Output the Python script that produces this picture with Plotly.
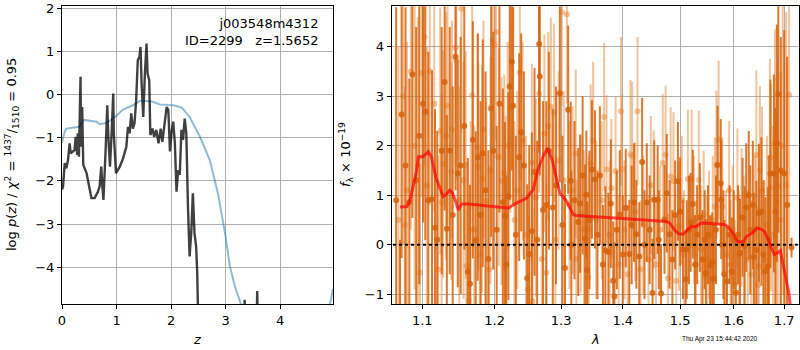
import numpy as np
import plotly.graph_objects as go

# ---------------- left panel: p(z) and chi2 curves ----------------
z_pz = [0.0, 0.019, 0.05, 0.08, 0.11, 0.14, 0.16, 0.20, 0.23, 0.25, 0.28, 0.29, 0.31, 0.34, 0.35,
        0.37, 0.39, 0.45, 0.51, 0.54, 0.60, 0.66, 0.69, 0.72, 0.74, 0.76, 0.80, 0.83, 0.85, 0.88,
        0.91, 0.94, 0.95, 0.99, 1.06, 1.12, 1.18, 1.21, 1.24, 1.27, 1.30, 1.33, 1.36, 1.39, 1.42,
        1.44, 1.46, 1.49, 1.52, 1.55, 1.57, 1.60, 1.62, 1.66, 1.69, 1.73, 1.77, 1.81, 1.84, 1.88,
        1.92, 1.95, 1.98, 2.01, 2.04, 2.07, 2.10, 2.13, 2.16, 2.19, 2.22, 2.25, 2.28, 2.31, 2.34,
        2.37, 2.40, 2.43, 2.46, 2.48, 2.51, 2.70, 3.00, 3.33, 3.35, 3.37, 3.56, 3.58, 3.60, 4.0, 4.97]
logpz = [-2.2, -2.13, -1.59, -1.71, -1.52, -1.13, -1.36, -1.32, -1.29, -0.98, -1.40, -0.90, -1.44, 0.41, -1.21,
         -0.29, -1.63, -1.82, -2.21, -2.40, -2.40, -2.25, -2.13, -1.67, -2.13, -2.44, -1.29, -0.25, -0.98, -1.67,
         -0.90, 0.02, -0.90, -1.82, -1.67, -1.48, -1.21, -0.75, -0.90, -0.44, -0.79, -0.67, -0.13, 0.79, 0.87,
         1.10, 0.25, -0.52, 0.48, 1.18, 0.48, 0.33, -0.94, -0.79, -0.98, -0.82, -1.13, -0.79, -1.10, -0.75,
         -0.29, -0.36, -1.32, -0.86, -0.63, -1.13, -2.25, -1.75, -1.86, -0.82, -1.05, -0.56, -0.90, -2.59, -3.75,
         -3.21, -2.29, -3.21, -3.52, -4.13, -6.0, -8.0, -8.0, -6.0, -4.75, -6.0, -6.0, -4.55, -6.0, -8.0, -8.0]

z_chi = [0.0, 0.04, 0.08, 0.2, 0.32, 0.4, 0.5, 0.63, 0.69, 0.8, 0.875, 0.97, 1.12, 1.30, 1.43,
         1.55, 1.67, 1.79, 2.04, 2.19, 2.34, 2.53, 2.71, 2.86, 2.99, 3.08, 3.17, 3.25, 3.35, 3.6,
         4.2, 4.7, 4.88, 4.93, 4.97]
chi_curve = [-1.12, -0.9, -0.79, -0.77, -0.75, -0.59, -0.6, -0.63, -0.69, -0.66, -0.61, -0.52, -0.35, -0.25, -0.15,
             -0.15, -0.17, -0.23, -0.25, -0.30, -0.52, -0.98, -1.52, -2.29, -3.21, -3.98, -4.44, -4.75, -5.1, -5.8,
             -6.2, -5.6, -5.0, -4.75, -4.5]

# ---------------- right panel: spectrum ----------------
lam_a = [1.066, 1.071, 1.073, 1.078, 1.083, 1.087, 1.092, 1.096, 1.101, 1.104, 1.108, 1.113, 1.117, 1.120,
         1.126, 1.130, 1.133, 1.137, 1.141, 1.145, 1.148, 1.152, 1.157, 1.162, 1.165, 1.169, 1.173, 1.176,
         1.180, 1.183, 1.187, 1.191, 1.195,
         1.198, 1.203, 1.207, 1.212, 1.215, 1.217, 1.220, 1.222, 1.225, 1.227, 1.231, 1.236, 1.239, 1.243,
         1.248, 1.251, 1.255, 1.259, 1.263, 1.266, 1.267, 1.272, 1.277, 1.281, 1.287, 1.292, 1.298, 1.302,
         1.306, 1.311, 1.315, 1.316, 1.321, 1.327, 1.330, 1.334, 1.338, 1.340, 1.341, 1.345, 1.349,
         1.354, 1.358, 1.362, 1.367, 1.371, 1.376, 1.380, 1.384, 1.386, 1.390, 1.395, 1.400, 1.405, 1.411,
         1.415, 1.419, 1.423, 1.428, 1.433, 1.437, 1.441, 1.446, 1.451, 1.454, 1.460, 1.462, 1.466, 1.472,
         1.476, 1.481, 1.486, 1.491, 1.496, 1.500, 1.505, 1.510, 1.512, 1.516, 1.519, 1.523,
         1.527, 1.531, 1.536, 1.541, 1.545, 1.547, 1.551, 1.555, 1.559, 1.562, 1.566, 1.569, 1.575, 1.576,
         1.580, 1.582, 1.587, 1.592, 1.596, 1.600, 1.604, 1.608, 1.612, 1.617, 1.621, 1.624, 1.629, 1.632,
         1.637, 1.639, 1.644, 1.649, 1.654, 1.658, 1.662, 1.667, 1.669, 1.672, 1.679, 1.682, 1.685, 1.688,
         1.693, 1.700, 1.706, 1.715]
flux_a = [0.9, -1.9, 2.63, 1.6, 0.86, 3.44, 1.3, 2.2, 2.85, 2.69, 0.9, 0.92, 0.34, 0.10,
          1.9, 3.29, 0.32, 1.90, 0.6, 3.8, 1.44, 1.60, 2.4, -0.55, -0.79, 2.12, 0.09, 1.77,
          0.6, 1.85, 1.10, -0.29, 2.76,
          1.9, 0.3, 2.85, 0.86, 0.58, -0.40, 0.98, 3.2, 3.7, 2.81, 0.2, 1.77, 2.27, 1.60,
          -0.68, -0.19, 0.27, 1.47, 0.1, 4.06, 3.4, 0.70, 0.80, 1.9, 0.75, 1.2, 3.06, 0.4,
          -0.47, 2.73, 1.29, 0.0, 0.9, 0.46, 0.83, 1.4, 0.12, 1.01, -0.52, 0.5, 1.52,
          1.32, 0.2, 1.40, -0.40, -0.12, -0.15, 0.83, -0.73, -1.05, 0.3, 0.61, -0.2, 0.74, -0.19,
          0.4, 0.85, 0.21, -0.24, 1.67, 0.0, 0.85, 0.30, -0.98, 0.91, 0.91, 0.10, -0.99, 0.51,
          1.04, 0.21, -0.3, 0.6, 1.28, 0.67, -0.1, -0.70, -0.10, 0.3, 0.45, 0.82,
          -0.4, 0.2, 0.55, -0.3, 0.10, -0.58, 0.2, -0.41, -0.35, -0.69, 0.3, 1.61, 1.24, 0.91,
          0.0, -0.60, -0.74, 0.2, -0.55, 0.1, -0.97, 0.2, -0.17, 0.55, -0.02, 0.75, 1.0, 0.30,
          0.8, -0.25, -0.11, 0.64, 0.67, -0.20, -0.54, -0.44, 0.10, 1.44, 1.44, 0.67, 2.05, 3.04,
          1.5, 1.44, 0.8, -0.06]
err_a = [3.9, 2.0, 2.9, 3.2, 2.5, 2.9, 3.1, 3.0, 2.4, 2.6, 3.0, 2.6, 2.4, 2.2,
         2.5, 2.6, 2.3, 2.5, 2.6, 2.7, 2.3, 2.6, 2.5, 2.3, 2.0, 2.4, 2.2, 2.5,
         2.3, 2.3, 2.4, 2.2, 2.6,
         2.4, 2.1, 2.2, 2.3, 1.9, 1.8, 2.1, 2.3, 2.2, 2.0, 2.0, 2.1, 2.0, 1.9,
         1.9, 2.2, 2.0, 2.1, 2.0, 2.2, 2.0, 2.2, 2.1, 2.0, 2.0, 2.0, 1.8, 1.8,
         1.7, 1.7, 1.6, 1.5, 1.6, 1.5, 1.4, 1.6, 1.5, 1.3, 1.4, 1.4, 1.4,
         1.4, 1.3, 1.4, 1.2, 1.3, 1.2, 1.3, 1.2, 1.1, 1.2, 1.3, 1.2, 1.2, 1.1,
         1.2, 1.2, 1.1, 1.1, 1.3, 1.1, 1.2, 1.1, 1.1, 1.2, 1.1, 1.0, 1.0, 1.1,
         1.2, 1.1, 1.0, 1.1, 1.2, 1.1, 1.0, 1.0, 1.0, 1.1, 1.0, 1.1,
         1.0, 1.0, 1.1, 1.0, 1.0, 1.1, 1.0, 1.0, 1.0, 1.1, 1.1, 1.2, 1.3, 1.2,
         1.1, 1.1, 1.1, 1.0, 1.1, 1.0, 1.1, 1.0, 1.1, 1.2, 1.2, 1.3, 1.3, 1.3,
         1.3, 1.3, 1.4, 1.4, 1.5, 1.5, 1.5, 1.6, 1.7, 1.9, 2.0, 2.1, 2.4, 2.8,
         2.7, 2.9, 3.0, 0.2]

lam_b = [1.069, 1.075, 1.077, 1.080, 1.085, 1.090, 1.094, 1.097, 1.099, 1.103, 1.106, 1.110, 1.116, 1.121,
         1.124, 1.126, 1.128, 1.132, 1.134, 1.139, 1.140, 1.145, 1.146, 1.150, 1.153, 1.156, 1.159, 1.160,
         1.163, 1.166, 1.168, 1.171, 1.176, 1.177, 1.179, 1.182, 1.184, 1.188, 1.192, 1.194, 1.197,
         1.200, 1.202, 1.206, 1.210, 1.214, 1.216, 1.219, 1.223, 1.229, 1.233, 1.237, 1.241, 1.246, 1.249,
         1.251, 1.255, 1.256, 1.261, 1.266, 1.270, 1.274, 1.277, 1.280, 1.284, 1.289, 1.291, 1.296, 1.301,
         1.304, 1.309, 1.313, 1.318, 1.323, 1.324, 1.331, 1.336, 1.343, 1.344, 1.347, 1.351,
         1.356, 1.365, 1.369, 1.373, 1.378, 1.381, 1.388, 1.393, 1.397, 1.399, 1.403, 1.408, 1.413, 1.416,
         1.421, 1.425, 1.430, 1.435, 1.444, 1.448, 1.453, 1.457, 1.464, 1.469, 1.474, 1.478, 1.483, 1.488,
         1.493, 1.498, 1.503, 1.507, 1.514, 1.521,
         1.525, 1.529, 1.534, 1.538, 1.543, 1.549, 1.553, 1.557, 1.560, 1.564, 1.567, 1.571, 1.578, 1.585,
         1.591, 1.594, 1.598, 1.602, 1.607, 1.610, 1.615, 1.620, 1.627, 1.634, 1.641, 1.644, 1.647, 1.649,
         1.651, 1.655, 1.660, 1.665, 1.671, 1.673, 1.677, 1.681, 1.684, 1.687, 1.693, 1.697, 1.704, 1.710]
flux_b = [0.5, 3.0, 0.40, 1.1, 3.5, 2.0, 1.6, -0.57, 3.47, 4.2, 1.2, 3.5, 2.85, -0.50,
          2.3, 0.85, 1.63, 2.2, 2.81, 1.48, 2.33, 3.98, 3.72, 0.9, 4.77, 1.3, 1.61, -0.43,
          -1.13, 0.3, 3.02, 0.31, 1.97, 1.57, -0.19, 1.33, 2.33, 0.88, -0.5, 1.5, 4.14,
          4.04, 4.3, 1.77, 1.29, 1.44, 0.6, 2.0, 2.75, 0.5, 1.1, 3.48, 2.1, 0.2, -0.9,
          -1.2, 1.66, -1.15, 0.95, 3.05, -0.29, 2.25, -0.57, 2.4, 2.79, 2.67, 0.10, 1.7, 4.7,
          1.3, 4.66, 0.8, 1.1, 1.84, -0.29, 0.63, 0.31, -0.67, 0.31, 1.64, 2.1,
          0.5, 0.9, 2.58, 1.52, 0.2, 1.14, 1.49, -0.4, 2.7, 1.53, 0.3, -0.6, 1.83, 1.79,
          0.67, 2.70, -0.5, 0.4, -0.3, 1.2, 0.91, -0.4, 0.3, 1.65, 1.82, -0.68, 1.38, 1.28,
          -0.73, 0.37, 0.9, -0.2, 1.33, 1.33,
          0.5, -0.4, 1.31, -0.1, 0.6, -0.3, 0.2, -0.7, 0.5, 0.77, 1.61, 2.12, 0.77, -0.2,
          1.10, -0.4, 0.3, -0.8, 0.95, -0.2, 0.55, 0.0, -0.3, -0.6, 0.3, 1.82, -0.82, -0.44,
          1.51, 1.09, -0.3, 0.4, 1.76, 1.15, 0.2, 2.05, 0.88, 1.18, 0.5, 2.0, 1.2, 3.03]
err_b = [3.5, 3.0, 2.8, 3.0, 3.2, 2.9, 3.0, 2.2, 2.5, 2.6, 2.8, 2.7, 2.2, 2.3,
         2.5, 2.2, 2.3, 2.5, 2.4, 2.2, 2.2, 2.4, 2.4, 2.3, 2.5, 2.4, 2.3, 2.1,
         2.0, 2.2, 2.3, 2.1, 2.3, 2.1, 2.1, 2.3, 2.2, 2.1, 2.1, 2.3, 2.3,
         2.3, 2.2, 2.2, 2.1, 2.0, 2.0, 2.1, 2.1, 2.0, 2.0, 2.2, 2.0, 2.0, 1.9,
         1.8, 2.0, 1.9, 2.0, 2.0, 1.9, 2.0, 1.8, 1.9, 1.8, 1.8, 1.7, 1.8, 1.9,
         1.8, 1.8, 1.7, 1.7, 1.7, 1.6, 1.6, 1.6, 1.5, 1.5, 1.6, 1.6,
         1.6, 1.6, 1.5, 1.5, 1.5, 1.4, 1.5, 1.4, 1.5, 1.5, 1.4, 1.4, 1.5, 1.5,
         1.4, 1.5, 1.4, 1.4, 1.3, 1.4, 1.4, 1.3, 1.3, 1.4, 1.4, 1.3, 1.4, 1.4,
         1.3, 1.3, 1.3, 1.3, 1.4, 1.4,
         1.3, 1.3, 1.4, 1.3, 1.3, 1.3, 1.3, 1.3, 1.3, 1.4, 1.5, 1.6, 1.4, 1.3,
         1.4, 1.3, 1.3, 1.3, 1.4, 1.3, 1.4, 1.4, 1.4, 1.5, 1.5, 1.7, 1.6, 1.6,
         1.7, 1.7, 1.6, 1.8, 2.0, 2.1, 2.2, 2.3, 2.5, 2.6, 3.0, 3.0, 3.5, 3.0]

lam_model = [1.071, 1.080, 1.084, 1.092, 1.095, 1.101, 1.108, 1.112, 1.118, 1.128, 1.131, 1.137, 1.141,
             1.149, 1.153, 1.163, 1.190, 1.220, 1.232, 1.247, 1.257, 1.264, 1.272, 1.279, 1.286, 1.293,
             1.298, 1.305, 1.307, 1.319, 1.323, 1.400, 1.475, 1.481, 1.490, 1.497, 1.505, 1.511, 1.520,
             1.528, 1.539, 1.582, 1.588, 1.598, 1.607, 1.613, 1.619, 1.625, 1.631, 1.637, 1.645, 1.652,
             1.660, 1.668, 1.674, 1.680, 1.686, 1.692, 1.710, 1.716]
flux_model = [0.76, 0.77, 0.91, 1.45, 1.78, 1.78, 1.88, 1.78, 1.37, 0.97, 1.00, 1.10, 1.04,
              0.70, 0.82, 0.82, 0.78, 0.74, 0.84, 0.94, 1.11, 1.51, 1.78, 1.95, 1.72, 1.31,
              1.04, 0.94, 0.91, 0.61, 0.59, 0.53, 0.47, 0.44, 0.30, 0.22, 0.21, 0.27, 0.37,
              0.36, 0.44, 0.41, 0.37, 0.24, 0.07, 0.05, 0.07, 0.17, 0.21, 0.24, 0.34, 0.32,
              0.27, 0.10, -0.07, -0.20, -0.17, -0.12, -1.0, -1.6]

zero_lam = [1.062, 1.728]
zero_flux = [0.0, 0.0]

x_ticks_left = [0, 1, 2, 3, 4]
y_ticks_left = [-4, -3, -2, -1, 0, 1, 2]
x_ticks_right = [1.1, 1.2, 1.3, 1.4, 1.5, 1.6, 1.7]
y_ticks_right = [-1, 0, 1, 2, 3, 4]

W, H = 800, 350
FONT = "DejaVu Sans"
GRID = "#b0b0b0"

fig = go.Figure()

# left panel
fig.add_trace(go.Scatter(x=z_chi, y=chi_curve, mode="lines",
                         line=dict(color="rgba(31,119,180,0.5)", width=2),
                         xaxis="x", yaxis="y", showlegend=False))
fig.add_trace(go.Scatter(x=z_pz, y=logpz, mode="lines",
                         line=dict(color="rgba(0,0,0,0.75)", width=2.4),
                         xaxis="x", yaxis="y", showlegend=False))

# right panel
light = "rgba(232,135,55,0.5)"
dark = "rgba(214,98,10,0.85)"
fig.add_trace(go.Scatter(x=lam_b, y=flux_b, mode="markers",
                         marker=dict(color=light, size=6),
                         error_y=dict(type="data", array=err_b, color=light, thickness=2, width=0),
                         xaxis="x2", yaxis="y2", showlegend=False))
fig.add_trace(go.Scatter(x=lam_a, y=flux_a, mode="markers",
                         marker=dict(color=dark, size=6),
                         error_y=dict(type="data", array=err_a, color=dark, thickness=2, width=0),
                         xaxis="x2", yaxis="y2", showlegend=False))
fig.add_trace(go.Scatter(x=zero_lam, y=zero_flux, mode="lines",
                         line=dict(color="black", width=2, dash="dot"),
                         xaxis="x2", yaxis="y2", showlegend=False))
fig.add_trace(go.Scatter(x=lam_model, y=flux_model, mode="lines",
                         line=dict(color="rgba(255,0,0,0.7)", width=3),
                         xaxis="x2", yaxis="y2", showlegend=False))

axis_common = dict(showgrid=True, gridcolor=GRID, gridwidth=1, showline=True, linecolor="black",
                   linewidth=1.2, mirror=True, ticks="outside", ticklen=4, tickcolor="black",
                   tickfont=dict(family=FONT, size=13, color="black"), zeroline=False)

fig.update_layout(
    width=W, height=H, margin=dict(l=0, r=0, t=0, b=0, autoexpand=False),
    paper_bgcolor="white", plot_bgcolor="white",
    xaxis=dict(domain=[62 / W, 333 / W], range=[0, 4.97], tickvals=x_ticks_left,
               anchor="y", **axis_common),
    yaxis=dict(domain=[(H - 304) / H, (H - 6.3) / H], range=[-4.85, 2.04], tickvals=y_ticks_left,
               anchor="x", **axis_common),
    xaxis2=dict(domain=[391.7 / W, 799 / W], type="log",
                range=[np.log10(1.0603), np.log10(1.7305)], tickvals=x_ticks_right,
                ticktext=[f"{v:.1f}" for v in x_ticks_right], anchor="y2", **axis_common),
    yaxis2=dict(domain=[(H - 304) / H, (H - 6.3) / H], range=[-1.2, 4.82], tickvals=y_ticks_right,
                anchor="x2", **axis_common),
)

ann_font = dict(family=FONT, size=13, color="black")
fig.add_annotation(xref="paper", yref="paper", x=320 / W, y=1 - 14 / H, xanchor="right", yanchor="top",
                   text="j003548m4312<br>ID=2299   z=1.5652", showarrow=False, align="right", font=ann_font)
fig.add_annotation(xref="paper", yref="paper", x=12 / W, y=1 - 155 / H, xanchor="center", yanchor="middle",
                   text="log <i>p</i>(<i>z</i>) / <i>χ</i><sup>2</sup> = <sup>1437</sup>/<sub>1510</sub> = 0.95",
                   textangle=-90, showarrow=False, font=ann_font)
fig.add_annotation(xref="paper", yref="paper", x=346 / W, y=1 - 155 / H, xanchor="center", yanchor="middle",
                   text="<i>f</i><sub>λ</sub> × 10<sup>−19</sup>",
                   textangle=-90, showarrow=False, font=ann_font)
fig.add_annotation(xref="paper", yref="paper", x=197 / W, y=1 - 339 / H, xanchor="center", yanchor="middle",
                   text="<i>z</i>", showarrow=False, font=ann_font)
fig.add_annotation(xref="paper", yref="paper", x=595 / W, y=1 - 339 / H, xanchor="center", yanchor="middle",
                   text="<i>λ</i>", showarrow=False, font=ann_font)
fig.add_annotation(xref="paper", yref="paper", x=760 / W, y=1 - 339 / H, xanchor="right", yanchor="middle",
                   text="Thu Apr 23 15:44:42 2020", showarrow=False,
                   font=dict(family="Liberation Sans Narrow, Liberation Sans", size=6.5, color="black"))

fig.write_html("out.html", config={"displayModeBar": False},
               post_script="document.body.style.margin='0';document.body.style.overflow='hidden';")
